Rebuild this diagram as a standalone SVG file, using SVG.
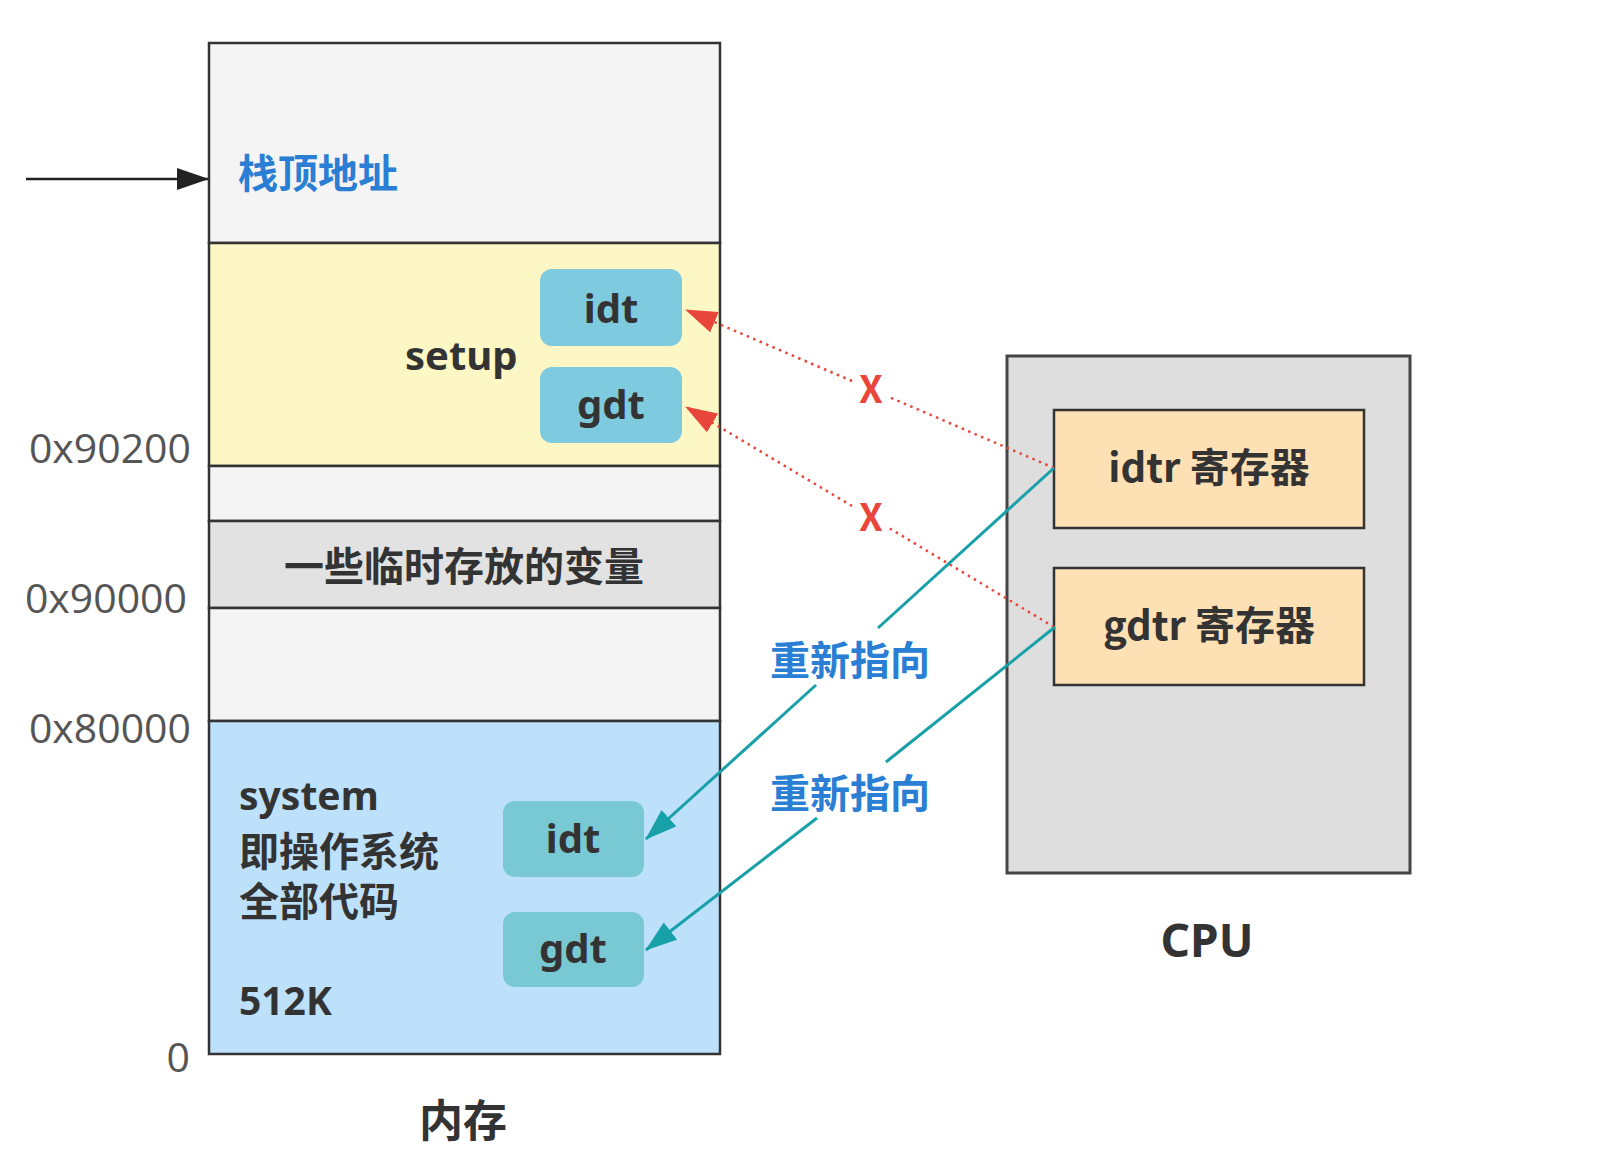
<svg xmlns="http://www.w3.org/2000/svg" width="1600" height="1154" viewBox="0 0 1600 1154">
<style>
.sec{stroke:#333;stroke-width:2.5}
.t{font-family:"Noto Sans","Noto Sans CJK SC",sans-serif;font-weight:700;fill:#333}
.c{font-family:"Noto Sans CJK SC","Noto Sans",sans-serif;font-weight:700}
.blue{fill:#2a7ed3}
.addr{font-family:"Open Sans","Liberation Sans",sans-serif;font-weight:400;font-size:41px;fill:#555;text-anchor:end}
.tbl1{fill:#7ecadf}
.tbl2{fill:#79c9d5}
.reg{fill:#fde0b4;stroke:#333;stroke-width:2.5}
.red{stroke:#e8463a;stroke-width:2.5;stroke-dasharray:2.5 4.5;fill:none}
.teal{stroke:#17a0a8;stroke-width:3;fill:none}
.mid{text-anchor:middle}
</style>
<defs>
<marker id="ar" markerWidth="32" markerHeight="22" refX="31" refY="11" orient="auto" markerUnits="userSpaceOnUse"><path d="M0,0 L32,11 L0,22 z" fill="#e8463a"/></marker>
<marker id="at" markerWidth="32" markerHeight="22" refX="31" refY="11" orient="auto" markerUnits="userSpaceOnUse"><path d="M0,0 L32,11 L0,22 z" fill="#17a0a8"/></marker>
<marker id="ak" markerWidth="32" markerHeight="22" refX="31" refY="11" orient="auto" markerUnits="userSpaceOnUse"><path d="M0,0 L32,11 L0,22 z" fill="#222"/></marker>
</defs>
<rect width="1600" height="1154" fill="#fff"/>

<g id="memory">
<rect class="sec" x="209" y="43" width="511" height="200" fill="#f4f4f4"/>
<rect class="sec" x="209" y="243" width="511" height="223" fill="#fdf7c6"/>
<rect class="sec" x="209" y="466" width="511" height="55" fill="#f4f4f4"/>
<rect class="sec" x="209" y="521" width="511" height="87" fill="#e2e2e2"/>
<rect class="sec" x="209" y="608" width="511" height="113" fill="#f4f4f4"/>
<rect class="sec" x="209" y="721" width="511" height="333" fill="#bde0fb"/>
<text class="c blue" x="238" y="188" font-size="40">栈顶地址</text>
<text class="t" x="405" y="370" font-size="40">setup</text>
<text class="c" x="464" y="581" font-size="40" fill="#333" text-anchor="middle">一些临时存放的变量</text>
<text class="t" x="239" y="810" font-size="39">system</text>
<text class="c" x="239" y="866" font-size="40" fill="#333">即操作系统</text>
<text class="c" x="239" y="916" font-size="40" fill="#333">全部代码</text>
<text class="t" x="239" y="1015" font-size="39">512K</text>
<text class="c mid" x="463" y="1137" font-size="44" fill="#333">内存</text>
</g>

<g id="setup-idt"><rect class="tbl1" x="540" y="269" width="142" height="77" rx="12"/><text class="t mid" x="611" y="323" font-size="40">idt</text></g>
<g id="setup-gdt"><rect class="tbl1" x="540" y="367" width="142" height="76" rx="12"/><text class="t mid" x="611" y="419" font-size="40">gdt</text></g>
<g id="system-idt"><rect class="tbl2" x="503" y="801" width="141" height="76" rx="12"/><text class="t mid" x="573" y="853" font-size="40">idt</text></g>
<g id="system-gdt"><rect class="tbl2" x="503" y="912" width="141" height="75" rx="12"/><text class="t mid" x="573" y="963" font-size="40">gdt</text></g>

<g id="addresses">
<text class="addr" x="191" y="463">0x90200</text>
<text class="addr" x="187" y="613">0x90000</text>
<text class="addr" x="191" y="743">0x80000</text>
<text class="addr" x="190" y="1072">0</text>
</g>

<g id="cpu">
<rect x="1007" y="356" width="403" height="517" fill="#dedede" stroke="#444" stroke-width="3"/>
<text class="t mid" x="1207" y="957" font-size="46">CPU</text>
</g>
<g id="idtr"><rect class="reg" x="1054" y="410" width="310" height="118"/><text class="c mid" x="1209" y="482" font-size="40" fill="#333">idtr 寄存器</text></g>
<g id="gdtr"><rect class="reg" x="1054" y="568" width="310" height="117"/><text class="c mid" x="1209" y="640" font-size="40" fill="#333">gdtr 寄存器</text></g>

<g id="connectors">
<line x1="26" y1="179" x2="208" y2="179" stroke="#222" stroke-width="2.5" marker-end="url(#ak)"/>
<path class="red" d="M1054,468 L889,397"/>
<path class="red" d="M852,381 L686,310" marker-end="url(#ar)"/>
<path class="red" d="M1054,627 L889,528"/>
<path class="red" d="M852,506 L686,407" marker-end="url(#ar)"/>
<text class="c mid" x="871" y="403" font-size="38" fill="#e8463a" font-family="Noto Sans">X</text>
<text class="c mid" x="871" y="531" font-size="38" fill="#e8463a" font-family="Noto Sans">X</text>
<path class="teal" d="M1054,468 L878,628"/>
<path class="teal" d="M816,685 L646,839" marker-end="url(#at)"/>
<path class="teal" d="M1055,627 L886,762"/>
<path class="teal" d="M817,818 L646,950" marker-end="url(#at)"/>
<text class="c blue" x="770" y="675" font-size="40">重新指向</text>
<text class="c blue" x="770" y="808" font-size="40">重新指向</text>
</g>
</svg>
